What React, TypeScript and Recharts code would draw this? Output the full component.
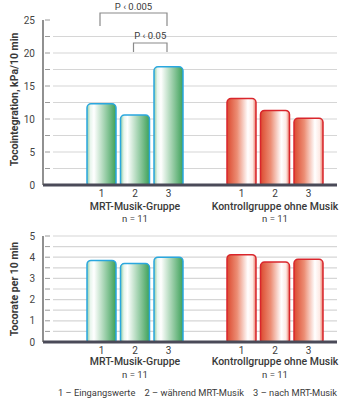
import React from 'react'
import { BarChart, Bar, XAxis, YAxis, CartesianGrid, Cell, ReferenceLine } from 'recharts'

// groups and phases
const groups = ['MRT-Musik-Gruppe', 'Kontrollgruppe ohne Musik']
const groupSizes = ['n = 11', 'n = 11']
const phases = ['1', '2', '3']
const legendItems = ['1 – Eingangswerte', '2 – während MRT-Musik', '3 – nach MRT-Musik']

// Tocointegration, kPa/10 min
const integrationMusic = [12.3, 10.6, 17.9]
const integrationControl = [13.1, 11.3, 10.1]
const integrationTicks = [0, 2.5, 5, 7.5, 10, 12.5, 15, 17.5, 20, 22.5, 25]

// Tocorate per 10 min
const rateMusic = [3.85, 3.7, 4.0]
const rateControl = [4.12, 3.77, 3.9]
const rateTicks = [0, 0.5, 1, 1.5, 2, 2.5, 3, 3.5, 4, 4.5, 5]

// significance brackets (phase index from -> to, music group)
const significance = [
  { from: 0, to: 2, text: 'P ‹ 0.005' },
  { from: 1, to: 2, text: 'P ‹ 0.05' },
]

const FONT = 'Roboto, "Open Sans", sans-serif'
const TEXT = '#3a3a3a'
const BAR_SIZE = 29
const BAR_GAP = 4.5
const bracketLevels = [
  { top: 13, bottom: 26, text: 9.5 },
  { top: 43, bottom: 52, text: 39 },
]

const fills = ['url(#gradGreen)', 'url(#gradRed)']
const strokes = ['#2aa7df', '#d9262c']

function buildRows(music: number[], control: number[]) {
  return groups.map((g, i) => {
    const v = i === 0 ? music : control
    return { group: g, p1: v[0], p2: v[1], p3: v[2] }
  })
}

const gridLine = (plotTop: number, skipTop: boolean) => (p: any) => {
  const isTop = Math.abs(p.y1 - plotTop) < 1
  return (
    <g key={p.key}>
      <line x1={p.x1 + 2} x2={p.x1 + 7} y1={p.y1} y2={p.y1} stroke="#9a9a9a" strokeWidth={1} />
      {!(skipTop && isTop) && (
        <line x1={p.x1 + 10} x2={p.x2 - 8} y1={p.y1} y2={p.y1} stroke="#d6d6d6" strokeWidth={1.2} />
      )}
    </g>
  )
}

const baseline = (p: any) => {
  const left = Math.min(p.x1, p.x2)
  const right = Math.max(p.x1, p.x2) - 8
  return <line x1={left} x2={right} y1={p.y1} y2={p.y1} stroke="#4a4a58" strokeWidth={3} />
}

function AxisTitle({ viewBox, text, shift }: any) {
  const cy = viewBox.y + viewBox.height / 2 + shift
  return (
    <text
      x={18}
      y={cy}
      transform={`rotate(-90 18 ${cy})`}
      textAnchor="middle"
      fontFamily={FONT}
      fontWeight={700}
      fontSize={10.5}
      fill={TEXT}
    >
      {text}
    </text>
  )
}

function GroupTick({ x, y, payload, index, offsets }: any) {
  const pitch = BAR_SIZE + BAR_GAP
  return (
    <g fontFamily={FONT} fill={TEXT}>
      {phases.map((ph, k) => (
        <text key={ph} x={x + (k - 1) * pitch} y={y + offsets[0]} textAnchor="middle" fontSize={10} fill={TEXT}>
          {ph}
        </text>
      ))}
      <text x={x} y={y + offsets[1]} textAnchor="middle" fontSize={10.5} fontWeight={500} fill={TEXT}>
        {payload.value}
      </text>
      <text x={x} y={y + offsets[2]} textAnchor="middle" fontSize={9.5} fill={TEXT}>
        {groupSizes[index]}
      </text>
    </g>
  )
}

const bracketLabel = (p: any) => {
  if (p.index !== 0) return null
  const pitch = p.width + BAR_GAP
  const c3 = p.x + p.width / 2 - 1.5
  return (
    <g>
      {significance.map((s, i) => {
        const a = c3 - (2 - s.from) * pitch
        const b = c3 - (2 - s.to) * pitch
        const lv = bracketLevels[i]
        return (
          <g key={i}>
            <path
              d={`M${a},${lv.bottom} L${a},${lv.top} L${b},${lv.top} L${b},${lv.bottom}`}
              fill="none"
              stroke="#8a8a8a"
              strokeWidth={1.2}
            />
            <text x={(a + b) / 2} y={lv.text} textAnchor="middle" fontFamily={FONT} fontSize={9.5} fill={TEXT}>
              {s.text}
            </text>
          </g>
        )
      })}
    </g>
  )
}

function Gradients() {
  return (
    <defs>
      <linearGradient id="gradGreen" x1="0" y1="0" x2="1" y2="0">
        <stop offset="0%" stopColor="#8fcba0" />
        <stop offset="12%" stopColor="#e9f6ee" />
        <stop offset="24%" stopColor="#ffffff" />
        <stop offset="100%" stopColor="#3ea159" />
      </linearGradient>
      <linearGradient id="gradRed" x1="0" y1="0" x2="1" y2="0">
        <stop offset="0%" stopColor="#dc4a30" />
        <stop offset="35%" stopColor="#ec8d74" />
        <stop offset="72%" stopColor="#ffffff" />
        <stop offset="88%" stopColor="#fdeae5" />
        <stop offset="100%" stopColor="#e87866" />
      </linearGradient>
    </defs>
  )
}

function TocoChart({ music, control, ticks, max, title, titleShift, height, marginTop, axisHeight, offsets, skipTop, brackets }: any) {
  const rows = buildRows(music, control)
  const step = max / 5
  return (
    <BarChart
      width={353}
      height={height}
      data={rows}
      margin={{ top: marginTop, right: 8, bottom: 0, left: 0 }}
      barSize={BAR_SIZE}
      barGap={BAR_GAP}
    >
      <Gradients />
      <CartesianGrid vertical={false} horizontal={gridLine(marginTop, skipTop)} />
      <XAxis
        dataKey="group"
        height={axisHeight}
        tickLine={false}
        axisLine={false}
        tickSize={0}
        tickMargin={0}
        interval={0}
        padding={{ left: 22, right: 0 }}
        tick={<GroupTick offsets={offsets} />}
      />
      <YAxis
        width={43}
        domain={[0, max]}
        ticks={ticks}
        interval={0}
        tickLine={false}
        axisLine={{ stroke: '#555', strokeWidth: 1.3 }}
        tick={{ fontSize: 10, fill: '#444', fontFamily: FONT }}
        tickFormatter={(v: number) => (v % step === 0 ? String(v) : '')}
        label={<AxisTitle text={title} shift={titleShift} />}
      />
      {['p1', 'p2', 'p3'].map((k) => (
        <Bar
          key={k}
          dataKey={k}
          isAnimationActive={false}
          radius={[4, 4, 2, 2]}
          strokeWidth={1.5}
          label={brackets && k === 'p3' ? bracketLabel : undefined}
        >
          {rows.map((_, i) => (
            <Cell key={i} fill={fills[i]} stroke={strokes[i]} />
          ))}
        </Bar>
      ))}
      <ReferenceLine y={0} shape={baseline} />
    </BarChart>
  )
}

export default function App() {
  return (
    <div style={{ position: 'relative', width: 353, height: 400, background: '#fff', fontFamily: FONT }}>
      <style>{`body{margin:0}`}</style>
      <div style={{ position: 'absolute', left: 0, top: 0 }}>
        <TocoChart
          music={integrationMusic}
          control={integrationControl}
          ticks={integrationTicks}
          max={25}
          title="Tocointegration, kPa/10 min"
          titleShift={-3}
          height={225}
          marginTop={20}
          axisHeight={40}
          offsets={[11.5, 25, 36.5]}
          skipTop
          brackets
        />
      </div>
      <div style={{ position: 'absolute', left: 0, top: 222 }}>
        <TocoChart
          music={rateMusic}
          control={rateControl}
          ticks={rateTicks}
          max={5}
          title="Tocorate per 10 min"
          titleShift={0}
          height={178}
          marginTop={14}
          axisHeight={58}
          offsets={[12, 23, 35.5]}
          skipTop={false}
          brackets={false}
        />
      </div>
      <div
        style={{
          position: 'absolute',
          left: 58,
          top: 387,
          fontSize: 9.3,
          color: TEXT,
          whiteSpace: 'pre',
          lineHeight: '12px',
        }}
      >
        {legendItems.join('    ')}
      </div>
    </div>
  )
}
